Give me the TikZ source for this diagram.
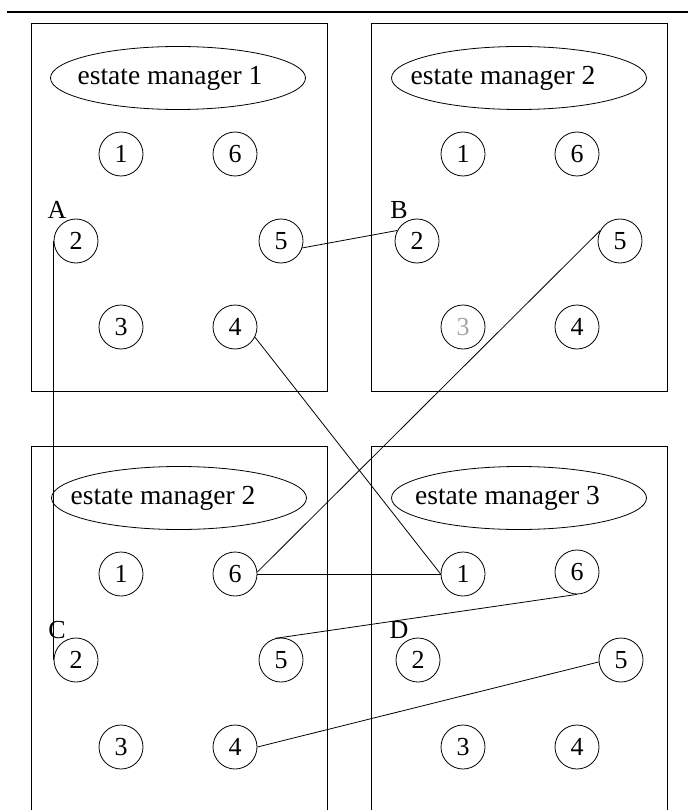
\documentclass[tikz,border=0pt]{standalone}
\usepackage{fontspec}
\setmainfont{Liberation Serif}
\usetikzlibrary{shapes.geometric}
\begin{document}
\begin{tikzpicture}[x=1pt,y=-1pt,
  boxframe/.style={draw,line width=1pt,rectangle,minimum width=296pt,minimum height=367pt,inner sep=0pt},
  mgr/.style={draw,line width=0.8pt,ellipse,minimum width=255pt,minimum height=63pt,inner sep=0pt,font=\fontsize{27.5}{30}\selectfont},
  num/.style={draw,line width=0.8pt,circle,minimum size=44pt,inner sep=0pt,font=\fontsize{26}{30}\selectfont},
  lab/.style={inner sep=0pt,font=\fontsize{26}{30}\selectfont},
  conn/.style={line width=0.8pt}]
\useasboundingbox (0,0) rectangle (688,810);
\clip (0,0) rectangle (688,810);
\fill[white] (0,0) rectangle (688,810);
\draw[line width=1.5pt] (7,12) -- (688,12);
% boxes
\node[boxframe] (box1) at (179,207.5) {};
\node[boxframe] (box2) at (519.5,207.5) {};
\node[boxframe] (box3) at (179,629.5) {};
\node[boxframe] (box4) at (519.5,629.5) {};
% managers
\node[mgr] (m1) at (178,78) {\hspace*{-16pt}estate manager 1};
\node[mgr] (m2) at (519,78) {\hspace*{-32pt}estate manager 2};
\node[mgr] (m3) at (179,498) {\hspace*{-32pt}estate manager 2};
\node[mgr] (m4) at (519,498) {\hspace*{-23pt}estate manager 3};
% box 1
\node[num] (a1) at (121,154) {1};
\node[num] (a6) at (235,154) {6};
\node[num] (a2) at (76,241) {2};
\node[num] (a5) at (281,241) {5};
\node[num] (a3) at (121,327) {3};
\node[num] (a4) at (235,327) {4};
% box 2
\node[num] (b1) at (463,154) {1};
\node[num] (b6) at (577,154) {6};
\node[num] (b2) at (417,241) {2};
\node[num] (b5) at (620,241) {5};
\node[num,text=black!35] (b3) at (463,327) {3};
\node[num] (b4) at (577,327) {4};
% box 3
\node[num] (c1) at (121,574) {1};
\node[num] (c6) at (235,574) {6};
\node[num] (c2) at (76,660) {2};
\node[num] (c5) at (281,660) {5};
\node[num] (c3) at (121,747) {3};
\node[num] (c4) at (235,747) {4};
% box 4
\node[num] (d1) at (463,574) {1};
\node[num] (d6) at (577,572) {6};
\node[num] (d2) at (418,660) {2};
\node[num] (d5) at (621,660) {5};
\node[num] (d3) at (463,747) {3};
\node[num] (d4) at (577,747) {4};
% labels
\node[lab] (la) at (57,210) {A};
\node[lab] (lb) at (399,210) {B};
\node[lab] (lc) at (57,630) {C};
\node[lab] (ld) at (399,630) {D};
% connectors
\draw[conn] (a2.west) -- (c2.west);
\draw[conn] (a5.-18) -- (b2.152);
\draw[conn] (a4.-27) -- (d1.west);
\draw[conn] (b5.152) -- (c6.5);
\draw[conn] (c6.east) -- (d1.west);
\draw[conn] (d6.south) -- (c5.105);
\draw[conn] (d5.185) -- (c4.east);
\end{tikzpicture}
\end{document}
